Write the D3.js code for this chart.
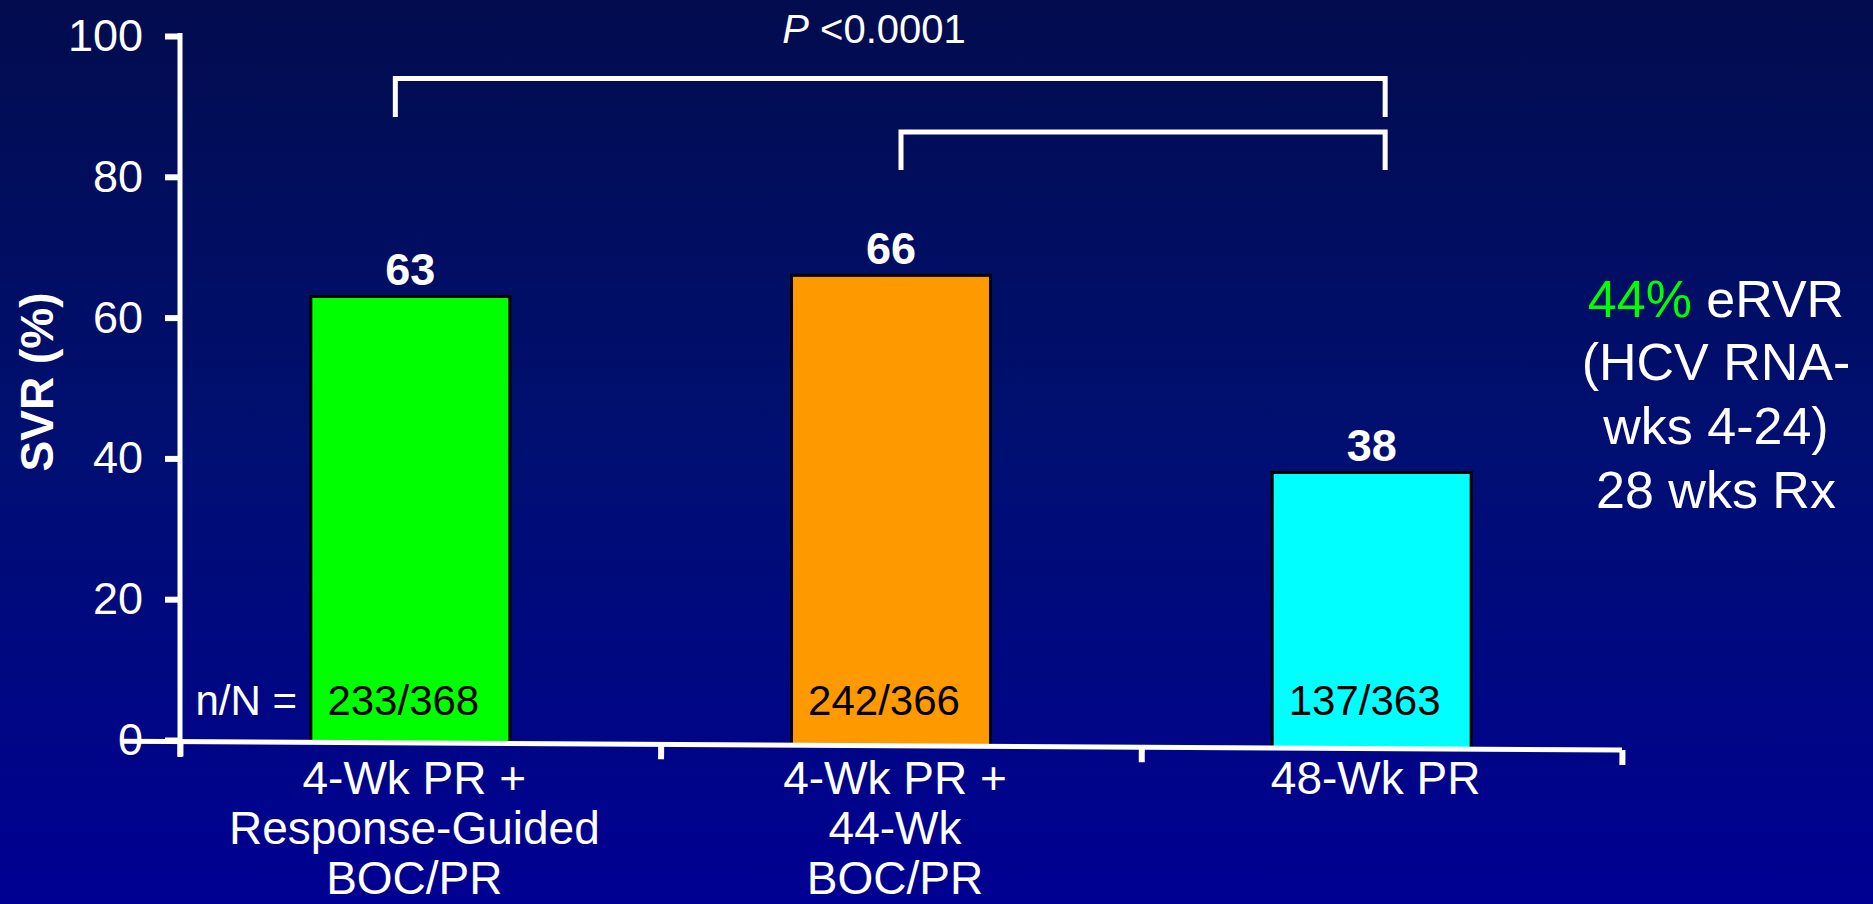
<!DOCTYPE html>
<html>
<head>
<meta charset="utf-8">
<script src="https://cdn.jsdelivr.net/npm/d3@7"></script>
<style>
  html, body { margin: 0; padding: 0; overflow: hidden; background: #000b4d; }
  svg { display: block; }
</style>
</head>
<body>
<svg id="chart" width="1873" height="904"></svg>
<script>
// ---- data ----
const categories = ["4-Wk PR + Response-Guided BOC/PR", "4-Wk PR + 44-Wk BOC/PR", "48-Wk PR"];
const categoryLines = [["4-Wk PR +", "Response-Guided", "BOC/PR"], ["4-Wk PR +", "44-Wk", "BOC/PR"], ["48-Wk PR"]];
const svrValues = [63, 66, 38];
const responders = [233, 242, 137];
const totals = [368, 366, 363];
const barColors = ["#00ff00", "#ff9900", "#00ffff"];
const yTicks = [0, 20, 40, 60, 80, 100];
const comparisons = [[0, 2], [1, 2]];
const pValueText = "<0.0001";
const eRVRPercent = 44;
const noteLines = ["(HCV RNA-", "wks 4-24)", "28 wks Rx"];

// ---- layout ----
const W = 1873, H = 904;
const FONT = "'Liberation Sans', Arial, Helvetica, sans-serif";
const barShift = -10;          // bars sit slightly left of the band centre
const tiltDeg = 0.34;          // the baseline runs slightly downhill
const baseY0 = 741.5;          // baseline height at the y axis
const slope = Math.tan(tiltDeg * Math.PI / 180);

const svg = d3.select("#chart");

// background gradient
const defs = svg.append("defs");
const grad = defs.append("linearGradient").attr("id", "bg")
  .attr("x1", 0).attr("y1", 0).attr("x2", 0).attr("y2", 1);
grad.append("stop").attr("offset", "0%").attr("stop-color", "#020c4e");
grad.append("stop").attr("offset", "50%").attr("stop-color", "#000f72");
grad.append("stop").attr("offset", "100%").attr("stop-color", "#000092");
svg.append("rect").attr("width", W).attr("height", H).attr("fill", "url(#bg)");

// scales
const x = d3.scaleBand().domain(categories).range([180, 1622])
  .paddingInner(0.586).paddingOuter(0.293);
const y = d3.scaleLinear().domain([0, 100]).range([740, 36]);
const baseAt = px => baseY0 + slope * (px - 180);
const barCenter = c => x(c) + x.bandwidth() / 2 + barShift;

// y axis
const yAxis = d3.axisLeft(y).tickValues(yTicks).tickSize(15).tickPadding(22).tickSizeOuter(0);
const gy = svg.append("g").attr("transform", "translate(180,0)").call(yAxis);
gy.select(".domain").remove();
gy.selectAll(".tick line").attr("stroke", "#fff").attr("stroke-width", 6);
gy.selectAll(".tick text").attr("fill", "#fff")
  .style("font-size", "45px").style("font-family", FONT);
gy.append("line").attr("x1", 0).attr("x2", 0)
  .attr("y1", y(100) - 3).attr("y2", 757)
  .attr("stroke", "#fff").attr("stroke-width", 5);

// y axis title
svg.append("text")
  .attr("transform", `translate(53,382) rotate(-90)`)
  .attr("text-anchor", "middle")
  .attr("fill", "#fff")
  .style("font-family", FONT).style("font-size", "46px").style("font-weight", "bold")
  .text("SVR (%)");

// bars
const data = categories.map((c, i) => ({
  c, v: svrValues[i], n: responders[i], N: totals[i], color: barColors[i]
}));

svg.append("g").selectAll("rect").data(data).join("rect")
  .attr("x", d => x(d.c) + barShift)
  .attr("width", x.bandwidth())
  .attr("y", d => y(d.v))
  .attr("height", d => baseAt(barCenter(d.c)) - y(d.v))
  .attr("fill", d => d.color)
  .attr("stroke", "#000").attr("stroke-width", 3);

// value labels above bars
svg.append("g").selectAll("text").data(data).join("text")
  .attr("x", d => barCenter(d.c))
  .attr("y", d => y(d.v) - 11)
  .attr("text-anchor", "middle")
  .attr("fill", "#fff")
  .style("font-family", FONT).style("font-size", "45px").style("font-weight", "bold")
  .text(d => d.v);

// n/N labels inside bars
svg.append("text")
  .attr("x", 297).attr("y", y(0) - 25)
  .attr("text-anchor", "end").attr("fill", "#fff")
  .style("font-family", FONT).style("font-size", "42px")
  .text("n/N =");
svg.append("g").selectAll("text").data(data).join("text")
  .attr("x", d => barCenter(d.c) - 7)
  .attr("y", y(0) - 25)
  .attr("text-anchor", "middle").attr("fill", "#000")
  .style("font-family", FONT).style("font-size", "42px")
  .text(d => `${d.n}/${d.N}`);

// x axis: tilted baseline with boundary ticks
const edge = d3.scaleLinear().domain([0, categories.length]).range(x.range());
const gx = svg.append("g")
  .attr("transform", `translate(0,${baseY0}) rotate(${tiltDeg},180,0)`)
  .call(d3.axisBottom(edge).tickValues(d3.range(categories.length + 1))
    .tickFormat("").tickSize(15).tickSizeOuter(0));
gx.select(".domain").remove();
gx.selectAll(".tick line").attr("stroke", "#fff").attr("stroke-width", 6);
gx.append("line").attr("x1", 122).attr("x2", 1622).attr("y1", 0).attr("y2", 0)
  .attr("stroke", "#fff").attr("stroke-width", 5);

// category labels
const gl = svg.append("g").attr("transform", "translate(-6,794)")
  .call(d3.axisBottom(x).tickSize(0).tickPadding(0));
gl.select(".domain").remove();
gl.selectAll(".tick text").each(function (d, i) {
  const t = d3.select(this);
  t.text(null).attr("y", 0).attr("dy", null)
    .attr("fill", "#fff")
    .style("font-family", FONT).style("font-size", "46px");
  categoryLines[i].forEach((ln, j) => {
    t.append("tspan").attr("x", 0).attr("dy", j ? 50 : 0).text(ln);
  });
});

// significance brackets
const bracketLayout = [
  { top: 78.5, bottom: 117, inset: -25 },
  { top: 132, bottom: 170, inset: 0 }
];
const bandMid = i => x(categories[i]) + x.bandwidth() / 2;
svg.append("g").selectAll("path").data(comparisons).join("path")
  .attr("d", (cmp, k) => {
    const L = bracketLayout[k];
    const x1 = bandMid(cmp[0]) + L.inset, x2 = bandMid(cmp[1]) + 3.5;
    return `M${x1},${L.bottom}V${L.top}H${x2}V${L.bottom}`;
  })
  .attr("fill", "none").attr("stroke", "#fff").attr("stroke-width", 5)
  .attr("stroke-linejoin", "miter");

const pText = svg.append("text")
  .attr("x", 874).attr("y", 43).attr("text-anchor", "middle").attr("fill", "#fff")
  .style("font-family", FONT).style("font-size", "40px").style("white-space", "pre");
pText.append("tspan").style("font-style", "italic").text("P");
pText.append("tspan").text(" " + pValueText);

// side note
const note = svg.append("text")
  .attr("x", 1716).attr("y", 317).attr("text-anchor", "middle").attr("fill", "#fff")
  .style("font-family", FONT).style("font-size", "52px").style("white-space", "pre");
note.append("tspan").attr("fill", "#00ff00").text(`${eRVRPercent}%`);
note.append("tspan").text(" eRVR");
noteLines.forEach((ln, j) => {
  svg.append("text")
    .attr("x", 1716).attr("y", 380 + j * 64)
    .attr("text-anchor", "middle").attr("fill", "#fff")
    .style("font-family", FONT).style("font-size", "52px")
    .text(ln);
});
</script>
</body>
</html>
